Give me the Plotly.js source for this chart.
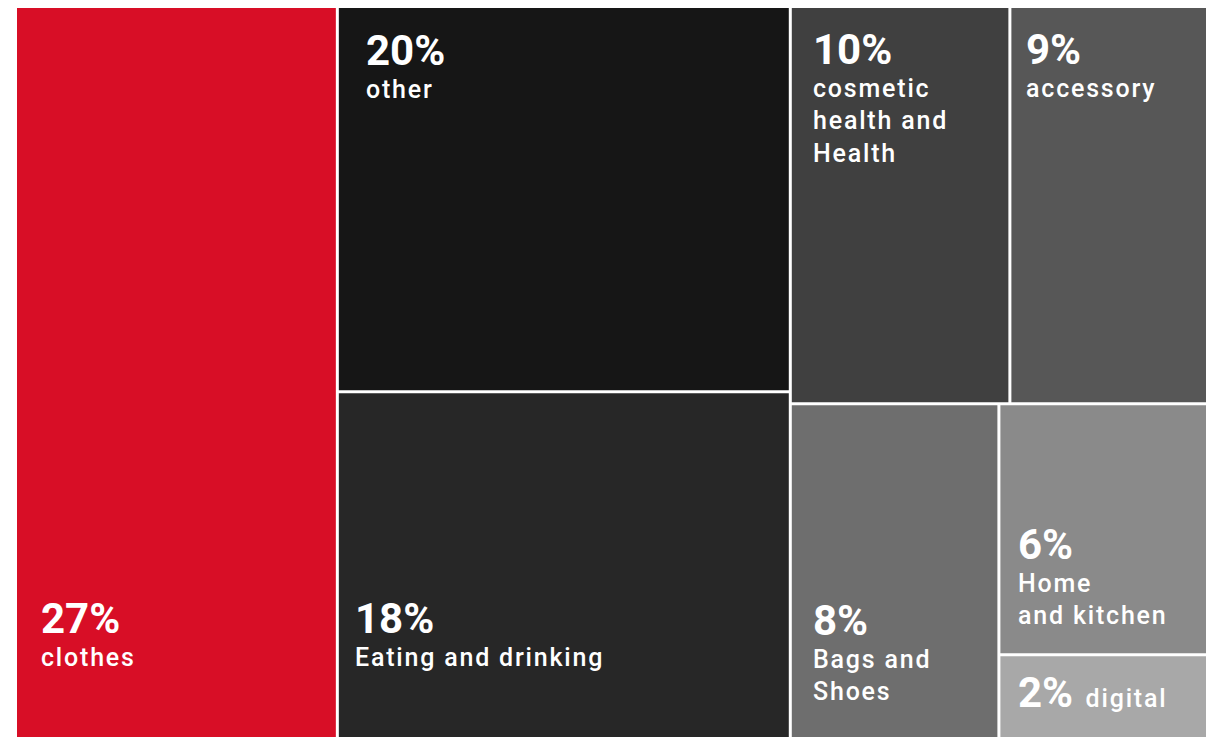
<!DOCTYPE html>
<html><head><meta charset="utf-8">
<script src="https://cdn.plot.ly/plotly-3.0.1.min.js"></script>
<style>html,body{margin:0;padding:0;background:#fff;overflow:hidden}</style>
</head><body>
<div id="chart" style="width:1206px;height:737px"></div>
<script>
// ---- data ----
const categories = ["clothes","other","Eating and drinking","cosmetic health and Health","accessory","Bags and Shoes","Home and kitchen","digital"];
const shares = [27,20,18,10,9,8,6,2];
const labelText = ["clothes","other","Eating and drinking","cosmetic<br>health and<br>Health","accessory","Bags and<br>Shoes","Home<br>and kitchen","digital"];
const groupOf = ["","g1","g1","g2top","g2top","g2bot","g2c","g2c"];
const groups = ["g1","g2","g2top","g2bot","g2c"];
const groupParents = ["","","g2","g2","g2bot"];

// ---- style ----
const leafColors = ["#d80e26","#161616","#272727","#404040","#575757","#6e6e6e","#8a8a8a","#a8a8a8"];
const placement = [
  {edge:'bottom', dx:24, dy:-133},
  {edge:'top',    dx:27, dy:28},
  {edge:'bottom', dx:16, dy:-133},
  {edge:'top',    dx:21, dy:27},
  {edge:'top',    dx:15, dy:27},
  {edge:'bottom', dx:21, dy:-131},
  {edge:'bottom', dx:18, dy:-123},
  {edge:'middle', dx:18, dy:-19, inline:true}
];
const FONT = 'Roboto, "Open Sans", sans-serif';
const M = {l:17, r:0, t:8, b:0};
const W = 1206, H = 737;
const ASC = 10; // cap-top offset from text box top

const ids = categories.concat(groups);
const parents = groupOf.concat(groupParents);
function total(id){
  let s = 0;
  parents.forEach((p,i)=>{ if(p===id) s += (i < categories.length ? shares[i] : total(ids[i])); });
  return s;
}
const values = shares.concat(groups.map(total));
const colors = leafColors.concat(groups.map(()=> '#ffffff'));

const trace = {
  type:'treemap',
  ids: ids, labels: ids, parents: parents, values: values,
  branchvalues:'total', sort:false,
  tiling:{packing:'slice-dice', pad:3},
  marker:{colors: colors, line:{width:0}, pad:{t:0,l:0,r:0,b:0}},
  textinfo:'none', hoverinfo:'skip',
  pathbar:{visible:false},
  root:{color:'#ffffff'}
};
const layout = {
  width:W, height:H, margin:M,
  paper_bgcolor:'#ffffff', showlegend:false,
  font:{family:FONT}
};

Plotly.newPlot('chart',[trace],layout,{staticPlot:true}).then(gd=>{
  const boxes = {};
  gd.querySelectorAll('g.slice').forEach(g=>{
    const d = g.__data__;
    let id;
    if(d && d.data && d.data.data && d.data.data.id!==undefined) id = d.data.data.id;
    else if(d && d.data && d.data.id!==undefined) id = d.data.id;
    const path = g.querySelector('path.surface') || g.querySelector('path');
    if(id!==undefined && path) boxes[id] = path.getBoundingClientRect();
  });
  const pw = W - M.l - M.r, ph = H - M.t - M.b;
  const anns = [];
  categories.forEach((c,i)=>{
    const b = boxes[c]; if(!b) return;
    const p = placement[i];
    let edgeY = p.edge==='top' ? b.top : (p.edge==='bottom' ? b.bottom : (b.top+b.bottom)/2);
    const capTop = edgeY + p.dy;
    const xpx = b.left + p.dx;
    const ypx = capTop - ASC;
    const pct = '<span style="font-size:42px;font-weight:700">' + shares[i] + '%</span>';
    const lab = '<span style="letter-spacing:1.8px">' + labelText[i] + '</span>';
    anns.push({
      xref:'paper', yref:'paper',
      x:(xpx - M.l)/pw, y:1 - (ypx - M.t)/ph,
      xanchor:'left', yanchor:'top', align:'left',
      showarrow:false, borderpad:0, borderwidth:0,
      font:{family:FONT, size:25, color:'#ffffff', weight:500},
      text: p.inline ? (pct + '&nbsp;&nbsp;' + lab) : (pct + '<br>' + lab)
    });
  });
  return Plotly.relayout(gd,{annotations:anns});
});
</script>
</body></html>
